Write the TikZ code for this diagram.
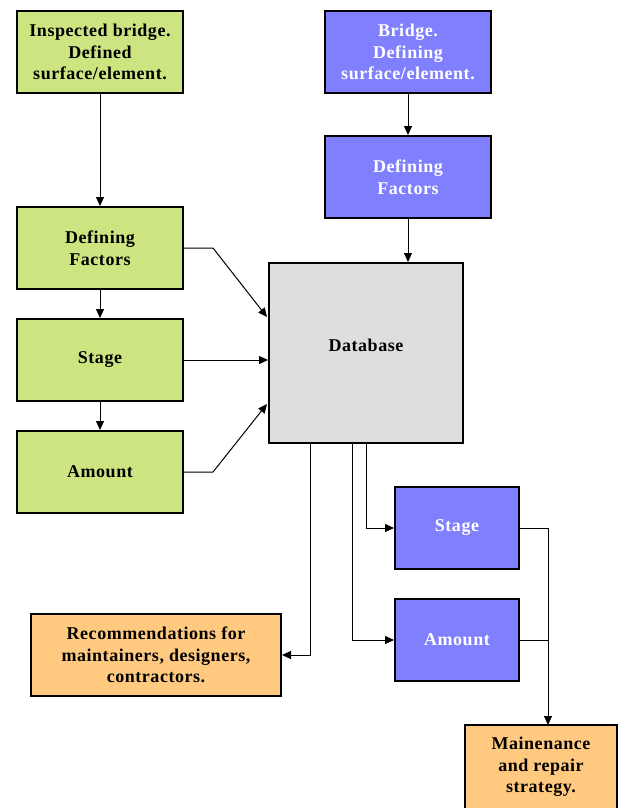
\documentclass[tikz,border=0pt]{standalone}
\usepackage{fontspec}
\setmainfont{Liberation Serif}[LetterSpace=3]
\usetikzlibrary{arrows.meta}
\definecolor{grn}{RGB}{205,229,128}
\definecolor{blu}{RGB}{128,128,255}
\definecolor{gry}{RGB}{222,222,222}
\definecolor{org}{RGB}{255,201,128}
\begin{document}
\begin{tikzpicture}[x=1pt,y=-1pt,
  box/.style={draw=black,line width=2pt,minimum width=166pt,minimum height=82pt,inner sep=0pt,align=center,
    font=\fontsize{18}{21.5}\selectfont\bfseries},
  gbox/.style={box,fill=grn,text=black},
  bbox/.style={box,fill=blu,text=white},
  obox/.style={box,fill=org,text=black},
  conn/.style={line width=1pt,-{Triangle[length=9pt,width=8pt]}},
  plain/.style={line width=1pt}]
\useasboundingbox (0,0) rectangle (624,808);
% green column
\node[gbox] (g1) at (100,52) {Inspected bridge.\\Defined\\surface/element.};
\node[gbox] (g2) at (100,248) {Defining\\Factors};
\node[gbox] (g3) at (100,360) {Stage};
\node[gbox] (g4) at (100,472) {Amount};
% blue column
\node[bbox] (b1) at (408,52) {Bridge.\\Defining\\surface/element.};
\node[bbox] (b2) at (408,177) {Defining\\Factors};
% database
\node[box,fill=gry,minimum width=194pt,minimum height=180pt] (db) at (366,353) {};
\node[font=\fontsize{18}{21.5}\selectfont\bfseries] (dbl) at (366,345) {Database};
% outputs
\node[bbox,minimum width=124pt] (bs) at (457,528) {Stage};
\node[bbox,minimum width=124pt] (ba) at (457,640) {Amount};
\node[obox,minimum width=250pt] (rec) at (156,655) {Recommendations for\\maintainers, designers,\\contractors.};
\node[obox,minimum width=152pt,minimum height=84pt] (mr) at (541,767) {Mainenance\\and repair\\strategy.};
% connectors
\draw[conn] (g1) -- (g2);
\draw[conn] (g2) -- (g3);
\draw[conn] (g3) -- (g4);
\draw[conn] (b1) -- (b2);
\draw[conn] (b2.south) -- (b2.south |- db.north);
\coordinate (k1) at (213,248);
\coordinate (k2) at (213,472);
\coordinate (e1) at (267,317);
\coordinate (e3) at (267,404);
\draw[conn] (g2.east) -- (k1) -- (e1);
\draw[conn] (g3.east) -- (g3.east -| db.west);
\draw[conn] (g4.east) -- (k2) -- (e3);
\coordinate (d1) at (310,444);
\coordinate (d2) at (352,444);
\coordinate (d3) at (366,444);
\draw[conn] (d1) |- (rec.east);
\draw[conn] (d2) |- (ba.west);
\draw[conn] (d3) |- (bs.west);
\coordinate (j) at (548,640);
\draw[plain] (ba.east) -- (j);
\draw[conn] (bs.east) -- (548,528) -- (548,725);
\end{tikzpicture}
\end{document}
